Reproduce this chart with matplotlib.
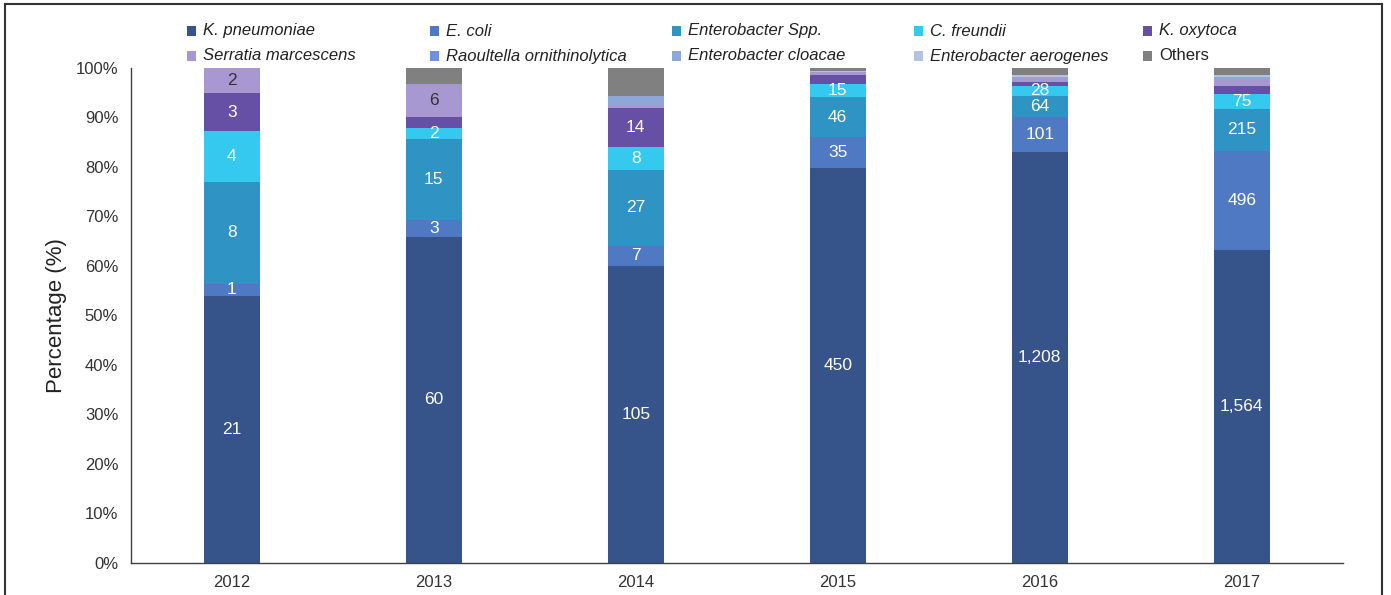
import numpy as np
import matplotlib
matplotlib.use('Agg')
import matplotlib.pyplot as plt
from matplotlib.lines import Line2D
from matplotlib.patches import Rectangle

plt.rcParams['font.family'] = ['Liberation Sans', 'DejaVu Sans']

years = ['2012', '2013', '2014', '2015', '2016', '2017']

species = ['K. pneumoniae', 'E. coli', 'Enterobacter Spp.', 'C. freundii', 'K. oxytoca',
           'Serratia marcescens', 'Raoultella ornithinolytica', 'Enterobacter cloacae',
           'Enterobacter aerogenes', 'Others']

colors = ['#36538a', '#4f79c3', '#2f93c3', '#36c9ef', '#6550a6',
          '#a898d1', '#7092d4', '#8fa6d9', '#b4c2e2', '#808080']

# isolate counts per year (2012..2017)
k_pneumoniae = [21, 60, 105, 450, 1208, 1564]
e_coli = [1, 3, 7, 35, 101, 496]
enterobacter_spp = [8, 15, 27, 46, 64, 215]
c_freundii = [4, 2, 8, 15, 28, 75]
k_oxytoca = [3, 2, 14, 10, 13, 37]
serratia = [2, 6, 1, 3, 10, 30]
raoultella = [0, 0, 0, 0, 0, 0]
ent_cloacae = [0, 0, 3, 1, 4, 15]
ent_aerogenes = [0, 0, 0, 1, 4, 12]
others = [0, 3, 10, 3, 22, 34]

# which segments carry a number label
shown = [
    [1, 1, 1, 1, 1, 1],
    [1, 1, 1, 1, 1, 1],
    [1, 1, 1, 1, 1, 1],
    [1, 1, 1, 1, 1, 1],
    [1, 0, 1, 0, 0, 0],
    [1, 1, 0, 0, 0, 0],
    [0, 0, 0, 0, 0, 0],
    [0, 0, 0, 0, 0, 0],
    [0, 0, 0, 0, 0, 0],
    [0, 0, 0, 0, 0, 0],
]

counts = np.array([k_pneumoniae, e_coli, enterobacter_spp, c_freundii, k_oxytoca,
                   serratia, raoultella, ent_cloacae, ent_aerogenes, others], dtype=float)
pct = counts / counts.sum(axis=0) * 100

fig = plt.figure(figsize=(13.91, 5.95), dpi=100)
ax = fig.add_axes([0.094, 0.0543, 0.8713, 0.8314])

x = np.arange(len(years))
bottom = np.zeros(len(years))
for i in range(len(species)):
    ax.bar(x, pct[i], 0.275, bottom=bottom, color=colors[i], linewidth=0)
    for j in range(len(years)):
        if shown[i][j]:
            txtc = '#333333' if i == 5 else 'white'
            ax.text(x[j], bottom[j] + pct[i][j] / 2, f'{int(counts[i][j]):,}',
                    ha='center', va='center', color=txtc, fontsize=12.5)
    bottom += pct[i]

ax.set_xlim(-0.5, 5.5)
ax.set_ylim(0, 100)
ax.set_yticks(np.arange(0, 101, 10))
ax.set_yticklabels([f'{v}%' for v in range(0, 101, 10)])
ax.set_xticks(x)
ax.set_xticklabels(years)
ax.tick_params(axis='both', length=0, labelsize=12, colors='#333333')
ax.tick_params(axis='y', pad=9)
ax.tick_params(axis='x', pad=9)
for s in ['top', 'right']:
    ax.spines[s].set_visible(False)
for s in ['left', 'bottom']:
    ax.spines[s].set_color('#404040')
    ax.spines[s].set_linewidth(1.0)
ax.set_ylabel('Percentage (%)', fontsize=16, color='#222222', labelpad=6)

# legend laid out as in the original: 5 evenly spaced columns, 2 rows
W, H = 1391.0, 595.0
col_x = [187, 430, 672, 914, 1143]
row_y = [31, 56]
for k, name in enumerate(species):
    r, c = divmod(k, 5)
    mx, my = col_x[c], row_y[r]
    fig.add_artist(Rectangle((mx / W, 1 - (my + 5) / H), 9 / W, 10 / H,
                             transform=fig.transFigure, color=colors[k], lw=0))
    style = 'normal' if name == 'Others' else 'italic'
    fig.text((mx + 16) / W, 1 - my / H, name, fontsize=12, style=style,
             color='#222222', va='center', ha='left')

# outer frame
frame = dict(color='#333333', lw=1.5, transform=fig.transFigure)
fig.add_artist(Line2D([5 / W, 5 / W], [-0.01, 1 - 4 / H], **frame))
fig.add_artist(Line2D([5 / W, 1382 / W], [1 - 4 / H, 1 - 4 / H], **frame))
fig.add_artist(Line2D([1382 / W, 1382 / W], [-0.01, 1 - 4 / H], **frame))

fig.savefig('out.png', dpi=100)
